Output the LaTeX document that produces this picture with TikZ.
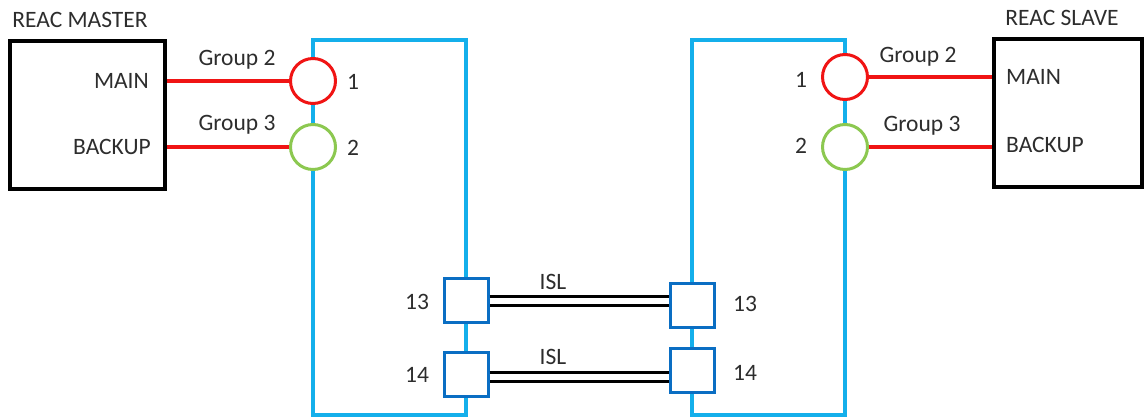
\documentclass[tikz,border=0pt]{standalone}
\usepackage{fontspec}
\setmainfont{Carlito}
\definecolor{cyanb}{RGB}{20,175,235}
\definecolor{portb}{RGB}{10,110,195}
\definecolor{redl}{RGB}{240,20,20}
\definecolor{greenl}{RGB}{140,200,80}
\definecolor{txt}{RGB}{45,45,45}
\begin{document}
\begin{tikzpicture}[x=1pt,y=-1pt,
  lbl/.style={text=txt,font=\fontsize{23.5}{28}\selectfont,inner sep=0pt},
  devbox/.style={draw=black,line width=4pt,minimum width=#1,minimum height=148pt,inner sep=0pt},
  switchbox/.style={draw=cyanb,line width=3.5pt},
  portc/.style={circle,draw=#1,line width=3pt,minimum size=45pt,inner sep=0pt,fill=white},
  ports/.style={draw=portb,line width=3pt,minimum size=44pt,inner sep=0pt,fill=white},
  redlink/.style={draw=redl,line width=3.5pt},
  isl/.style={draw=black,line width=3.2pt,double=white,double distance=6pt}]
\useasboundingbox (0,0) rectangle (1144,420);
% switches
\draw[switchbox] (313,415) -- (313,40) -- (466,40) -- (466,415) -- cycle;
\draw[switchbox] (692,415) -- (692,40) -- (845,40) -- (845,415) -- cycle;
% devices
\node[devbox=155pt] (master) at (87,115) {};
\node[devbox=148pt] (slave) at (1068,113) {};
\node[lbl] (mastert) at (80,20) {REAC MASTER};
\node[lbl] (slavet) at (1062,18) {REAC SLAVE};
\node[lbl,anchor=east] (mmain) at (149,81) {MAIN};
\node[lbl,anchor=east] (mbackup) at (151,147) {BACKUP};
\node[lbl,anchor=west] (smain) at (1006,77) {MAIN};
\node[lbl,anchor=west] (sbackup) at (1006,145) {BACKUP};
% ports
\node[portc=redl] (l1) at (313,81) {};
\node[portc=greenl] (l2) at (313,147) {};
\node[portc=redl] (r1) at (845,77) {};
\node[portc=greenl] (r2) at (845,147) {};
\node[lbl] (l1t) at (353,82) {1};
\node[lbl] (l2t) at (353,148) {2};
\node[lbl] (r1t) at (801,80) {1};
\node[lbl] (r2t) at (801,146) {2};
% red links
\draw[redlink] (master.east |- l1) -- (l1.west);
\draw[redlink] (master.east |- l2) -- (l2.west);
\draw[redlink] (r1.east) -- (slave.west |- r1);
\draw[redlink] (r2.east) -- (slave.west |- r2);
\node[lbl] (g2l) at (237,60) {Group 2};
\node[lbl] (g3l) at (237,125) {Group 3};
\node[lbl] (g2r) at (918,57) {Group 2};
\node[lbl] (g3r) at (922,126) {Group 3};
% ISL ports
\node[ports] (l13) at (466,300) {};
\node[ports] (l14) at (466,374) {};
\node[ports] (r13) at (692,305) {};
\node[ports] (r14) at (692,370) {};
\node[lbl] (l13t) at (417,302) {13};
\node[lbl] (l14t) at (417,375) {14};
\node[lbl] (r13t) at (745,304) {13};
\node[lbl] (r14t) at (745,373) {14};
\draw[isl] (l13.east |- 0,301) -- (r13.west |- 0,301);
\draw[isl] (l14.east |- 0,377) -- (r14.west |- 0,377);
\node[lbl] (isl1) at (553,282) {ISL};
\node[lbl] (isl2) at (553,357) {ISL};
\end{tikzpicture}
\end{document}
